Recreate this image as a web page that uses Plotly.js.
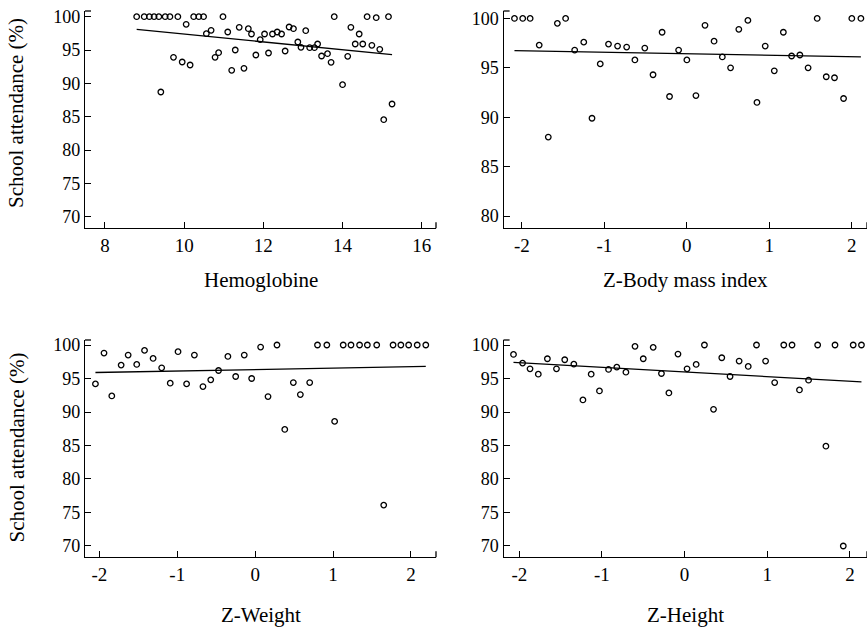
<!DOCTYPE html>
<html>
<head>
<meta charset="utf-8">
<script src="https://cdn.plot.ly/plotly-3.0.1.min.js"></script>
<style>
html,body{margin:0;padding:0;background:#fff;}
#chart{width:867px;height:629px;}
</style>
</head>
<body>
<div id="chart"></div>
<script>
// ---- Panel 1: Hemoglobine ----
const hbX = [8.80,8.99,9.12,9.24,9.36,9.52,9.64,9.84,10.24,10.37,10.49,10.98,13.79,14.62,14.85,15.16,
  9.41,9.73,9.95,10.05,10.15,10.56,10.68,10.78,10.87,11.10,11.20,11.29,11.39,11.51,11.62,11.70,11.81,11.92,
  12.03,12.13,12.23,12.35,12.46,12.55,12.65,12.76,12.87,12.95,13.07,13.17,13.29,13.37,13.47,13.62,13.71,
  14.00,14.13,14.21,14.32,14.42,14.51,14.74,14.94,15.04,15.25];
const hbY = [100,100,100,100,100,100,100,100,100,100,100,100,100,100,99.85,100,
  88.7,93.9,93.2,98.85,92.75,97.45,97.95,93.9,94.6,97.7,91.95,95.0,98.4,92.25,98.2,97.4,94.25,96.55,
  97.4,94.55,97.4,97.7,97.4,94.85,98.45,98.2,96.2,95.4,97.9,95.35,95.35,95.9,94.1,94.45,93.15,
  89.8,94.05,98.4,95.9,97.4,95.9,95.7,95.1,84.55,86.9];
const hbTrendX = [8.80, 15.25];
const hbTrendY = [98.1, 94.3];

// ---- Panel 2: Z-Body mass index ----
const bmiX = [-2.09,-1.99,-1.90,-1.79,-1.68,-1.57,-1.47,-1.36,-1.25,-1.15,-1.05,-0.95,-0.84,-0.73,-0.63,-0.51,
  -0.41,-0.30,-0.21,-0.10,0.00,0.11,0.22,0.33,0.43,0.53,0.63,0.74,0.85,0.95,1.06,1.17,1.27,1.37,1.47,1.58,
  1.69,1.79,1.90,2.00,2.11];
const bmiY = [100,100,100,97.3,88.0,99.5,100,96.8,97.6,89.9,95.4,97.4,97.2,97.1,95.8,97.0,
  94.3,98.6,92.1,96.8,95.8,92.2,99.3,97.7,96.1,95.0,98.9,99.8,91.5,97.2,94.7,98.6,96.2,96.3,95.0,100,
  94.1,94.0,91.9,100,100];
const bmiTrendX = [-2.09, 2.11];
const bmiTrendY = [96.75, 96.1];

// ---- Panel 3: Z-Weight ----
const wX = [-2.05,-1.94,-1.84,-1.72,-1.63,-1.52,-1.42,-1.31,-1.20,-1.09,-0.99,-0.88,-0.78,-0.67,-0.57,-0.47,
  -0.35,-0.25,-0.14,-0.045,0.07,0.165,0.28,0.38,0.49,0.58,0.70,0.80,0.92,1.02,1.13,1.23,1.34,1.44,1.56,1.65,
  1.77,1.87,1.97,2.08,2.19];
const wY = [94.2,98.8,92.4,97.0,98.5,97.1,99.2,98.0,96.6,94.3,99.0,94.2,98.5,93.8,94.8,96.2,
  98.3,95.3,98.5,95.0,99.7,92.3,100,87.4,94.4,92.6,94.4,100,100,88.6,100,100,100,100,100,76.1,
  100,100,100,100,100];
const wTrendX = [-2.05, 2.19];
const wTrendY = [95.9, 96.8];

// ---- Panel 4: Z-Height ----
const hX = [-2.07,-1.96,-1.87,-1.77,-1.66,-1.55,-1.45,-1.34,-1.23,-1.13,-1.03,-0.92,-0.82,-0.71,-0.60,-0.50,
  -0.38,-0.28,-0.19,-0.08,0.03,0.14,0.24,0.35,0.45,0.55,0.66,0.77,0.87,0.98,1.09,1.20,1.30,1.39,1.50,1.61,
  1.71,1.82,1.92,2.04,2.14];
const hY = [98.6,97.3,96.45,95.65,97.95,96.45,97.8,97.15,91.8,95.65,93.15,96.35,96.7,95.95,99.8,97.95,
  99.65,95.75,92.85,98.65,96.45,97.1,100,90.4,98.1,95.3,97.6,96.8,100,97.6,94.4,100,100,93.3,94.75,100,
  84.9,100,70.0,100,100];
const hTrendX = [-2.07, 2.14];
const hTrendY = [97.4, 94.5];

// ---- Ticks & labels ----
const hbTicks = [8, 10, 12, 14, 16];
const zTicks = [-2, -1, 0, 1, 2];
const zTickText = ['-2', '-1', '0', '1', '2'];
const yTicksA = [70, 75, 80, 85, 90, 95, 100];
const yTicksB = [80, 85, 90, 95, 100];
const xTitles = ['Hemoglobine', 'Z-Body mass index', 'Z-Weight', 'Z-Height'];
const yTitle = 'School attendance (%)';

// ---- Layout geometry (pixels in a 867x629 page) ----
const PW = 867, PH = 629;
const fx = v => v / PW;
const fy = v => 1 - v / PH;

const SERIF = 'Times New Roman';
const mk = {symbol: 'circle-open', size: 5.5, color: '#000', line: {color: '#000', width: 1.3}};
const ln = {color: '#000', width: 1.3};

function pts(x, y, n) {
  return {x: x, y: y, type: 'scatter', mode: 'markers', marker: mk, xaxis: 'x' + n, yaxis: 'y' + n,
    showlegend: false, cliponaxis: false};
}
function trend(x, y, n) {
  return {x: x, y: y, type: 'scatter', mode: 'lines', line: ln, xaxis: 'x' + n, yaxis: 'y' + n,
    hoverinfo: 'skip', showlegend: false};
}

const traces = [
  pts(hbX, hbY, ''), trend(hbTrendX, hbTrendY, ''),
  pts(bmiX, bmiY, '2'), trend(bmiTrendX, bmiTrendY, '2'),
  pts(wX, wY, '3'), trend(wTrendX, wTrendY, '3'),
  pts(hX, hY, '4'), trend(hTrendX, hTrendY, '4')
];

function xax(domain, range, tickvals, ticktext, anchor) {
  return {domain: domain, range: range, tickmode: 'array', tickvals: tickvals, ticktext: ticktext,
    ticks: 'inside', ticklen: 6, tickwidth: 1.3, tickcolor: '#000', showline: true, linecolor: '#000',
    linewidth: 1.3, showgrid: false, zeroline: false, anchor: anchor,
    tickfont: {family: SERIF, size: 19, color: '#000'}};
}
function yax(domain, range, tickvals, anchor) {
  return {domain: domain, range: range, tickmode: 'array', tickvals: tickvals,
    ticks: 'inside', ticklen: 6, tickwidth: 1.3, tickcolor: '#000', showline: true, linecolor: '#000',
    linewidth: 1.3, showgrid: false, zeroline: false, anchor: anchor,
    tickfont: {family: SERIF, size: 18, color: '#000'}};
}

const dxL = [fx(85), fx(436)];
const dxR = [fx(503.5), 1];
const dyT = [fy(228.3), fy(11)];
const dyB = [fy(557.3), fy(340)];

// axis-end stubs
function stubs(xr, yr) {
  return [
    {type: 'line', xref: xr + ' domain', yref: yr + ' domain', xsizemode: 'pixel', xanchor: 0,
      x0: 0, x1: 6, y0: 1, y1: 1, line: {color: '#000', width: 1.3}},
    {type: 'line', xref: xr + ' domain', yref: yr + ' domain', ysizemode: 'pixel', yanchor: 0,
      x0: 1, x1: 1, y0: 0, y1: 6, line: {color: '#000', width: 1.3}}
  ];
}

function ann(text, x, y, angle) {
  return {text: text, x: x, y: y, xref: 'paper', yref: 'paper', showarrow: false,
    xanchor: 'center', yanchor: 'middle', textangle: angle || 0,
    font: {family: SERIF, size: 21, color: '#000'}};
}

const layout = {
  width: PW, height: PH,
  margin: {l: 0, r: 0, t: 0, b: 0, pad: 0},
  paper_bgcolor: '#fff', plot_bgcolor: '#fff',
  showlegend: false,
  font: {family: SERIF, color: '#000'},
  xaxis: xax(dxL, [7.495, 16.36], hbTicks, hbTicks.map(String), 'y'),
  yaxis: yax(dyT, [68.26, 100.85], yTicksA, 'x'),
  xaxis2: xax(dxR, [-2.223, 2.184], zTicks, zTickText, 'y2'),
  yaxis2: yax(dyT, [78.77, 100.75], yTicksB, 'x2'),
  xaxis3: xax(dxL, [-2.184, 2.321], zTicks, zTickText, 'y3'),
  yaxis3: yax(dyB, [68.31, 100.75], yTicksA, 'x3'),
  xaxis4: xax(dxR, [-2.191, 2.207], zTicks, zTickText, 'y4'),
  yaxis4: yax(dyB, [68.31, 100.75], yTicksA, 'x4'),
  shapes: [].concat(stubs('x', 'y'), stubs('x2', 'y2'), stubs('x3', 'y3'), stubs('x4', 'y4')),
  annotations: [
    ann(xTitles[0], fx(260.5), fy(280)),
    ann(xTitles[1], fx(685), fy(280)),
    ann(xTitles[2], fx(260.5), fy(615)),
    ann(xTitles[3], fx(685), fy(615)),
    ann(yTitle, fx(16), fy(113), -90),
    ann(yTitle, fx(16), fy(447.5), -90)
  ]
};

Plotly.newPlot('chart', traces, layout, {displayModeBar: false});
</script>
</body>
</html>
